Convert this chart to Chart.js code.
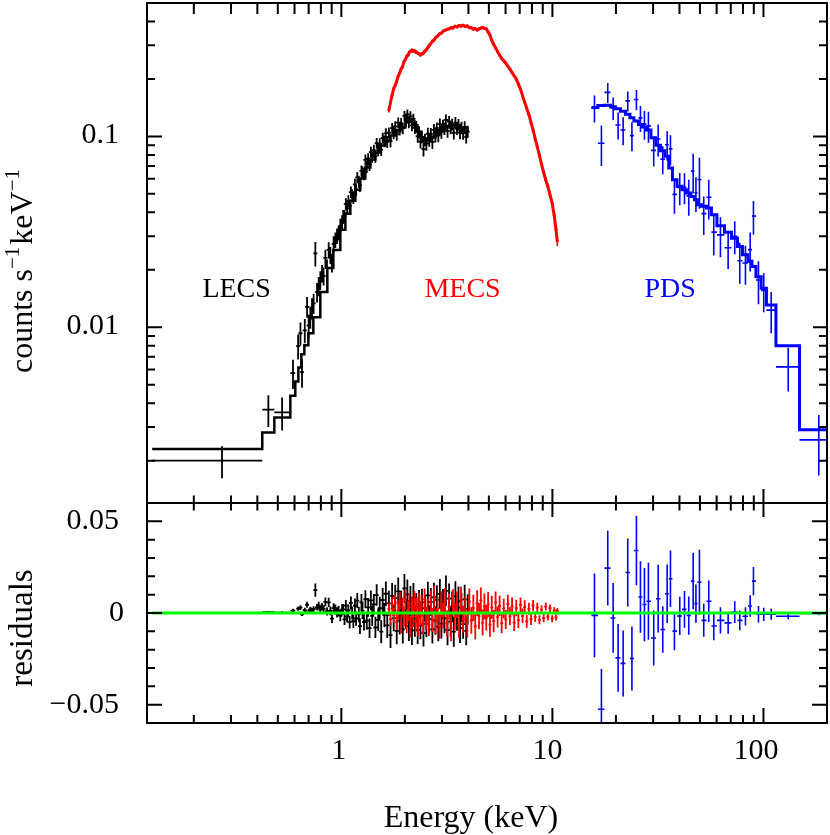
<!doctype html>
<html><head>
<meta charset="utf-8">
<title>LECS / MECS / PDS spectrum</title>
<script src="https://cdn.jsdelivr.net/npm/chart.js"></script>
<style>
  body { margin: 0; background: #fff; }
  #wrap { position: relative; width: 830px; height: 835px; }
  #wrap canvas { position: absolute; left: 0; top: 0; }
</style>
</head>
<body>
<div id="wrap">
  <canvas id="spec" width="830" height="835"></canvas>
  <canvas id="resid" width="830" height="835"></canvas>
</div>
<script>
// ---------- LECS (black) : energy keV, counts s-1 keV-1, 1 sigma, residual ----------
const lecsE = [0.272, 0.451, 0.524, 0.59, 0.624, 0.64, 0.651, 0.671, 0.688, 0.70,
  0.713, 0.726, 0.739, 0.753, 0.767, 0.781, 0.795, 0.810, 0.824, 0.840,
  0.855, 0.871, 0.887, 0.903, 0.919, 0.937, 0.954, 0.971, 0.989, 1.008,
  1.02, 1.035, 1.05, 1.065, 1.08, 1.095, 1.11, 1.125, 1.14, 1.16,
  1.175, 1.19, 1.21, 1.225, 1.245, 1.26, 1.28, 1.30, 1.32, 1.34,
  1.36, 1.38, 1.40, 1.425, 1.45, 1.47, 1.495, 1.52, 1.545, 1.57,
  1.60, 1.625, 1.65, 1.68, 1.71, 1.74, 1.77, 1.80, 1.83, 1.86,
  1.89, 1.92, 1.955, 1.99, 2.02, 2.055, 2.09, 2.125, 2.16, 2.195,
  2.23, 2.265, 2.30, 2.335, 2.37, 2.41, 2.45, 2.49, 2.53, 2.57,
  2.61, 2.655, 2.70, 2.745, 2.79, 2.835, 2.88, 2.93, 2.98, 3.03,
  3.08, 3.13, 3.185, 3.24, 3.295, 3.35, 3.41, 3.47, 3.53, 3.59,
  3.65, 3.71, 3.775, 3.84, 3.905, 3.97];
const lecsRate = [0.0020, 0.0037, 0.00358, 0.00575, 0.00797, 0.0093, 0.00582, 0.00964, 0.0128, 0.01024,
  0.01133, 0.01259, 0.01333, 0.0244, 0.01528, 0.01643, 0.01768, 0.01917, 0.01855, 0.02308,
  0.02044, 0.02542, 0.02393, 0.02164, 0.02734, 0.0287, 0.03012, 0.03124, 0.03401, 0.03514,
  0.0382, 0.0382, 0.0443, 0.0420, 0.0458, 0.0432, 0.0511, 0.0493, 0.0479, 0.0561,
  0.0527, 0.0610, 0.0580, 0.0555, 0.0660, 0.0649, 0.0637, 0.0754, 0.0694, 0.0764,
  0.0711, 0.0828, 0.0780, 0.0848, 0.0785, 0.0921, 0.0848, 0.0916, 0.0853, 0.0980,
  0.0944, 0.1038, 0.0937, 0.1045, 0.0944, 0.1105, 0.1037, 0.1128, 0.1024, 0.1182,
  0.1087, 0.1173, 0.1103, 0.1280, 0.1205, 0.1303, 0.1185, 0.1272, 0.1143, 0.1234,
  0.1109, 0.1127, 0.1002, 0.1056, 0.0938, 0.0995, 0.0857, 0.0961, 0.0916, 0.1035,
  0.0958, 0.1032, 0.0936, 0.1082, 0.1006, 0.1104, 0.1013, 0.1159, 0.1053, 0.1142,
  0.1100, 0.1221, 0.1067, 0.1197, 0.1108, 0.1156, 0.1045, 0.1182, 0.1100, 0.1151,
  0.1048, 0.1115, 0.1039, 0.1121, 0.0996, 0.1059];
const lecsErr = [0.00038, 0.0007, 0.0007, 0.001, 0.0012, 0.0013, 0.001, 0.0014, 0.0016, 0.0014,
  0.0015, 0.0016, 0.0016, 0.0036, 0.0018, 0.0019, 0.002, 0.002, 0.002, 0.0024,
  0.0022, 0.0025, 0.0024, 0.0023, 0.0026, 0.0027, 0.0028, 0.0028, 0.003, 0.003,
  0.0029, 0.0030, 0.0031, 0.0032, 0.0033, 0.0034, 0.0035, 0.0036, 0.0037, 0.0039,
  0.0040, 0.0041, 0.0042, 0.0043, 0.0045, 0.0046, 0.0047, 0.0049, 0.0050, 0.0051,
  0.0053, 0.0054, 0.0055, 0.0057, 0.0058, 0.0059, 0.0061, 0.0062, 0.0063, 0.0065,
  0.0066, 0.0067, 0.0068, 0.0069, 0.0070, 0.0071, 0.0072, 0.0073, 0.0074, 0.0075,
  0.0076, 0.0077, 0.0078, 0.0079, 0.0080, 0.0081, 0.0081, 0.0081, 0.0080, 0.0080,
  0.0079, 0.0078, 0.0077, 0.0076, 0.0075, 0.0074, 0.0073, 0.0073, 0.0074, 0.0074,
  0.0075, 0.0076, 0.0077, 0.0078, 0.0078, 0.0079, 0.0080, 0.0081, 0.0081, 0.0082,
  0.0082, 0.0083, 0.0083, 0.0083, 0.0083, 0.0083, 0.0082, 0.0082, 0.0082, 0.0081,
  0.0081, 0.0080, 0.0080, 0.0080, 0.0079, 0.0079];
const lecsRes = [0.0000, 0.0004, 0.0002, 0.0013, 0.0024, 0.0029, -0.0007, 0.0015, 0.0045, 0.0008,
  0.0019, 0.0012, 0.0021, 0.0125, 0.0031, 0.0042, 0.0018, 0.0035, 0.0022, 0.0061,
  0.0009, 0.0058, 0.0012, -0.0031, 0.0027, 0.0019, 0.0004, 0.0011, -0.0015, 0.0018,
  0.0020, -0.0035, 0.0040, -0.0020, 0.0015, -0.0050, 0.0055, 0.0000, -0.0045, 0.0040,
  -0.0030, 0.0068, -0.0008, -0.0072, 0.0058, 0.0012, -0.0049, 0.0075, -0.0042, 0.0031,
  -0.0083, 0.0069, -0.0016, 0.0047, -0.0079, 0.0098, -0.0037, 0.0026, -0.0102, 0.0071,
  -0.0012, 0.0105, -0.0068, 0.0052, -0.0121, 0.0093, -0.0028, 0.0081, -0.0097, 0.0118,
  -0.0041, 0.0044, -0.0089, 0.0134, -0.0006, 0.0102, -0.0072, 0.0066, -0.0095, 0.0083,
  -0.0051, 0.0031, -0.0092, 0.0049, -0.0068, 0.0058, -0.0110, 0.0027, -0.0058, 0.0096,
  -0.0033, 0.0061, -0.0089, 0.0087, -0.0041, 0.0072, -0.0074, 0.0104, -0.0058, 0.0049,
  -0.0029, 0.0121, -0.0093, 0.0078, -0.0047, 0.0035, -0.0102, 0.0091, -0.0015, 0.0064,
  -0.0083, 0.0029, -0.0061, 0.0074, -0.0097, 0.0023];
// wide low-energy LECS bins (keV)
const lecsBinLo = [0.127, 0.422, 0.4814, 0.5732];
const lecsBinHi = [0.422, 0.4814, 0.5732, 0.605];
// LECS folded model, step edges and values
const lecsModelE = [0.127, 0.422, 0.4814, 0.5732, 0.605, 0.6255, 0.6461, 0.6679, 0.6977, 0.7367,
  0.795, 0.8582, 0.9165, 0.989, 1.045, 1.103, 1.165, 1.230, 1.299, 1.372,
  1.449, 1.530, 1.616, 1.707, 1.803, 1.904, 2.011, 2.078, 2.147, 2.218,
  2.292, 2.368, 2.447, 2.528, 2.641, 2.790, 2.946, 3.111, 3.286, 3.470,
  3.664, 3.955];
const lecsModel = [0.0023, 0.00281, 0.00337, 0.00438, 0.0052, 0.00616, 0.00721, 0.00804, 0.0093, 0.01129,
  0.01528, 0.02044, 0.02542, 0.03239, 0.03933, 0.04603, 0.05261, 0.06009, 0.06867, 0.07566,
  0.08236, 0.08966, 0.09526, 0.1012, 0.1062, 0.1115, 0.1185, 0.1214, 0.1199, 0.1143,
  0.1062, 0.0988, 0.0941, 0.0953, 0.0988, 0.1037, 0.1088, 0.1129, 0.1143, 0.1129,
  0.1102, 0.1062];

// ---------- MECS (red) ----------
const mecsE = [1.68, 1.71, 1.74, 1.77, 1.80, 1.83, 1.86, 1.89, 1.92, 1.95,
  1.98, 2.01, 2.04, 2.07, 2.10, 2.13, 2.16, 2.19, 2.22, 2.25,
  2.28, 2.31, 2.34, 2.37, 2.40, 2.44, 2.48, 2.52, 2.56, 2.60,
  2.65, 2.70, 2.75, 2.80, 2.86, 2.92, 2.98, 3.04, 3.10, 3.17,
  3.24, 3.31, 3.38, 3.45, 3.53, 3.61, 3.69, 3.77, 3.86, 3.95,
  4.04, 4.13, 4.22, 4.31, 4.40, 4.49, 4.58, 4.67, 4.76, 4.86,
  4.96, 5.06, 5.16, 5.27, 5.38, 5.50, 5.62, 5.75, 5.88, 6.01,
  6.15, 6.29, 6.44, 6.59, 6.74, 6.90, 7.06, 7.22, 7.39, 7.56,
  7.74, 7.92, 8.10, 8.29, 8.48, 8.68, 8.88, 9.09, 9.30, 9.52,
  9.74, 9.97, 10.20, 10.40, 10.55];
const mecsRate = [0.137, 0.151, 0.164, 0.178, 0.185, 0.195, 0.207, 0.215, 0.226, 0.232,
  0.246, 0.252, 0.263, 0.267, 0.276, 0.279, 0.283, 0.280, 0.281, 0.277,
  0.276, 0.272, 0.271, 0.267, 0.270, 0.272, 0.279, 0.283, 0.291, 0.297,
  0.306, 0.315, 0.320, 0.330, 0.336, 0.345, 0.348, 0.356, 0.359, 0.364,
  0.366, 0.371, 0.370, 0.377, 0.375, 0.381, 0.378, 0.382, 0.377, 0.379,
  0.372, 0.371, 0.365, 0.367, 0.361, 0.366, 0.369, 0.372, 0.368, 0.366,
  0.352, 0.339, 0.318, 0.303, 0.291, 0.278, 0.266, 0.256, 0.249, 0.242,
  0.233, 0.225, 0.216, 0.208, 0.200, 0.188, 0.177, 0.163, 0.151, 0.140,
  0.130, 0.118, 0.108, 0.097, 0.0885, 0.0795, 0.0715, 0.0645, 0.0590, 0.0545,
  0.0495, 0.0448, 0.0385, 0.0325, 0.0282];
const mecsErr = [0.0035, 0.0037, 0.0039, 0.0041, 0.0042, 0.0044, 0.0046, 0.0047, 0.0049, 0.0050,
  0.0052, 0.0053, 0.0055, 0.0056, 0.0057, 0.0058, 0.0059, 0.0059, 0.0059, 0.0059,
  0.0059, 0.0058, 0.0058, 0.0058, 0.0058, 0.0059, 0.0060, 0.0061, 0.0062, 0.0063,
  0.0064, 0.0065, 0.0066, 0.0067, 0.0068, 0.0069, 0.0069, 0.0070, 0.0070, 0.0071,
  0.0071, 0.0072, 0.0072, 0.0072, 0.0072, 0.0073, 0.0073, 0.0073, 0.0073, 0.0073,
  0.0072, 0.0072, 0.0071, 0.0071, 0.0070, 0.0071, 0.0071, 0.0071, 0.0071, 0.0070,
  0.0068, 0.0066, 0.0063, 0.0061, 0.0059, 0.0057, 0.0055, 0.0054, 0.0053, 0.0052,
  0.0050, 0.0049, 0.0048, 0.0046, 0.0045, 0.0043, 0.0041, 0.0039, 0.0037, 0.0035,
  0.0033, 0.0031, 0.0030, 0.0028, 0.0027, 0.0025, 0.0024, 0.0023, 0.0022, 0.0021,
  0.0020, 0.0019, 0.0018, 0.0017, 0.0016];
const mecsRes = [0.0021, -0.0034, 0.0046, -0.0012, 0.0058, -0.0049, 0.0013, 0.0067, -0.0061, 0.0035,
  -0.0022, 0.0072, -0.0055, 0.0009, 0.0048, -0.0076, 0.0031, -0.0018, 0.0063, -0.0045,
  0.0026, -0.0069, 0.0052, -0.0011, 0.0039, -0.0058, 0.0074, -0.0029, 0.0016, -0.0063,
  0.0057, -0.0038, 0.0081, -0.0047, 0.0023, -0.0071, 0.0049, -0.0014, 0.0066, -0.0056,
  0.0034, -0.0082, 0.0058, -0.0021, 0.0045, -0.0064, 0.0072, -0.0033, 0.0019, -0.0059,
  0.0062, -0.0041, 0.0028, -0.0073, 0.0054, -0.0017, 0.0068, -0.0052, 0.0036, -0.0026,
  0.0047, -0.0063, 0.0031, -0.0044, 0.0058, -0.0022, 0.0039, -0.0057, 0.0025, -0.0035,
  0.0049, -0.0018, 0.0036, -0.0052, 0.0027, -0.0039, 0.0044, -0.0015, 0.0032, -0.0046,
  0.0023, -0.0034, 0.0041, -0.0021, 0.0029, -0.0037, 0.0018, -0.0028, 0.0035, -0.0019,
  0.0026, -0.0031, 0.0014, -0.0024, 0.0011];

// ---------- PDS (blue) ----------
const pdsE = [15.82, 17.07, 18.29, 19.40, 20.48, 21.63, 22.75, 23.81, 25.01, 26.13,
  27.29, 28.51, 30.20, 31.70, 33.33, 34.97, 36.25, 37.86, 40.12, 42.24,
  44.26, 46.44, 47.87, 49.73, 52.12, 55.06, 58.15, 62.55, 68.02, 73.10,
  77.22, 82.16, 86.49, 89.66, 94.69, 100.3, 108.8, 131.0, 182.9];
const pdsLo = [15.31, 16.43, 17.64, 18.84, 19.89, 21.01, 22.18, 23.30, 24.33, 25.56,
  26.70, 27.90, 29.30, 30.94, 32.50, 34.14, 35.59, 37.05, 38.92, 41.11,
  43.16, 45.33, 47.10, 48.67, 50.84, 53.68, 56.69, 60.19, 65.35, 70.53,
  75.30, 79.52, 84.43, 88.20, 92.14, 97.52, 103.3, 114.6, 148.2];
const pdsHi = [16.43, 17.64, 18.84, 19.89, 21.01, 22.18, 23.30, 24.33, 25.56, 26.70,
  27.90, 29.30, 30.94, 32.50, 34.14, 35.59, 37.05, 38.92, 41.11, 43.16,
  45.33, 47.10, 48.67, 50.84, 53.68, 56.69, 60.19, 65.35, 70.53, 75.30,
  79.52, 84.43, 88.20, 92.14, 97.52, 103.3, 114.6, 148.2, 200];
const pdsRate = [0.1412, 0.0920, 0.1700, 0.1410, 0.1148, 0.1080, 0.1535, 0.1010, 0.1560, 0.1250,
  0.1160, 0.1135, 0.0845, 0.0970, 0.0760, 0.0905, 0.0860, 0.0497, 0.0540, 0.0541,
  0.0488, 0.0658, 0.0506, 0.0595, 0.0394, 0.0480, 0.0315, 0.0305, 0.0261, 0.0300,
  0.0223, 0.0217, 0.0255, 0.0382, 0.0177, 0.0156, 0.0123, 0.0062, 0.00257];
const pdsErr = [0.0228, 0.0220, 0.0204, 0.0190, 0.0185, 0.0180, 0.0185, 0.0175, 0.0190, 0.0195,
  0.0200, 0.0210, 0.0150, 0.0185, 0.0127, 0.0160, 0.0154, 0.0104, 0.0104, 0.0100,
  0.0104, 0.0154, 0.0104, 0.0177, 0.0090, 0.0113, 0.0077, 0.0072, 0.0059, 0.0059,
  0.0054, 0.0050, 0.0059, 0.0077, 0.0045, 0.0036, 0.0030, 0.0016, 0.0009];
const pdsModel = [0.1416, 0.1450, 0.1456, 0.1430, 0.1395, 0.1355, 0.1305, 0.1254, 0.1205, 0.1156,
  0.1120, 0.1080, 0.0984, 0.0900, 0.0840, 0.0788, 0.0684, 0.0593, 0.0548, 0.0525,
  0.0505, 0.0485, 0.0466, 0.0439, 0.0430, 0.0421, 0.0389, 0.0340, 0.0315, 0.0293,
  0.0265, 0.0240, 0.0222, 0.0208, 0.0184, 0.0160, 0.0131, 0.0080, 0.0029];
const pdsRes = [-0.0013, -0.0525, 0.0245, -0.0027, -0.0245, -0.0275, 0.0221, -0.0248, 0.0341, 0.0087,
  0.0046, 0.0064, -0.0136, 0.0078, -0.0090, 0.0105, 0.0187, -0.0099, -0.0016, 0.0020,
  -0.0014, 0.0174, 0.0051, 0.0168, -0.0040, 0.0064, -0.0071, -0.0040, -0.0054, 0.0005,
  -0.0040, -0.0018, 0.0038, 0.0174, -0.0007, -0.0007, -0.0007, -0.0018, -0.0003];

// zero line of the residual panel
const zeroE = [0.127, 200];
const zeroRes = [0, 0];

// instrument names written in the spectrum panel
const instNames = ['LECS', 'MECS', 'PDS'];
const instColors = ['#000000', '#ff0000', '#0000ff'];
const instNameE = [0.319, 3.75, 36.1];
const instNameRate = 0.0144;

const FONT = "'Liberation Serif', 'Times New Roman', Times, serif";

function pts(xs, ys) { return xs.map((x, i) => ({ x: x, y: ys[i] })); }

function logTicks(min, max) {
  const major = [], minor = [];
  for (let p = -3; p <= 2; p++) {
    for (let k = 1; k <= 9; k++) {
      const v = Number((k * Math.pow(10, p)).toPrecision(2));
      if (v <= min * 1.0001 || v >= max * 0.9999) continue;
      (k === 1 ? major : minor).push(v);
    }
  }
  return { major: major, minor: minor };
}

// vertical title with optional superscripts, centred on yc, baseline at x
function vTitle(ctx, parts, x, yc, size) {
  ctx.save();
  ctx.translate(x, yc);
  ctx.rotate(-Math.PI / 2);
  ctx.fillStyle = '#000';
  ctx.textAlign = 'left';
  ctx.textBaseline = 'alphabetic';
  const supSize = Math.round(size * 0.65);
  let w = 0;
  parts.forEach(p => {
    ctx.font = (p[1] ? supSize : size) + 'px ' + FONT;
    w += ctx.measureText(p[0]).width + (p[1] ? 2 : 0);
  });
  let cx = -w / 2;
  parts.forEach(p => {
    ctx.font = (p[1] ? supSize : size) + 'px ' + FONT;
    ctx.fillText(p[0], cx, p[1] ? -Math.round(size * 0.4) : 0);
    cx += ctx.measureText(p[0]).width + (p[1] ? 2 : 0);
  });
  ctx.restore();
}

// crosses: vertical 1 sigma bar + horizontal bin bar
const errorBars = {
  id: 'errorBars',
  afterDatasetDraw(chart, args) {
    const ds = chart.data.datasets[args.index];
    if (!ds.errY) return;
    const ctx = chart.ctx, a = chart.chartArea;
    const xs = chart.scales.x, ys = chart.scales.y;
    ctx.save();
    ctx.beginPath();
    ctx.rect(a.left, a.top, a.right - a.left, a.bottom - a.top);
    ctx.clip();
    ctx.strokeStyle = ds.barColor;
    ctx.lineWidth = ds.barWidth;
    ctx.beginPath();
    args.meta.data.forEach((pt, i) => {
      const v = ds.data[i].y, e = ds.errY[i];
      const yHi = ys.getPixelForValue(v + e);
      const yLo = (ys.type === 'logarithmic' && v - e <= 0) ? a.bottom + 5 : ys.getPixelForValue(v - e);
      ctx.moveTo(pt.x, yHi);
      ctx.lineTo(pt.x, yLo);
      let x0 = pt.x - ds.cap, x1 = pt.x + ds.cap;
      if (ds.binLo && ds.binLo[i] != null) {
        x0 = xs.getPixelForValue(ds.binLo[i]);
        x1 = xs.getPixelForValue(ds.binHi[i]);
      }
      ctx.moveTo(x0, pt.y);
      ctx.lineTo(x1, pt.y);
    });
    ctx.stroke();
    ctx.restore();
  }
};

const specAxes = {
  id: 'specAxes',
  afterDraw(chart) {
    const ctx = chart.ctx, a = chart.chartArea, xs = chart.scales.x, ys = chart.scales.y;
    ctx.save();
    ctx.strokeStyle = '#000';
    ctx.lineWidth = 2;
    ctx.strokeRect(a.left, a.top, a.right - a.left, a.bottom - a.top);
    ctx.beginPath();
    const xt = logTicks(xs.min, xs.max);
    xt.minor.forEach(v => {
      const p = xs.getPixelForValue(v);
      ctx.moveTo(p, a.top); ctx.lineTo(p, a.top + 11);
      ctx.moveTo(p, a.bottom); ctx.lineTo(p, a.bottom - 7.5);
    });
    xt.major.forEach(v => {
      const p = xs.getPixelForValue(v);
      ctx.moveTo(p, a.top); ctx.lineTo(p, a.top + 14);
      ctx.moveTo(p, a.bottom); ctx.lineTo(p, a.bottom - 14);
    });
    const yt = logTicks(ys.min, ys.max);
    yt.minor.forEach(v => {
      const p = ys.getPixelForValue(v);
      ctx.moveTo(a.left, p); ctx.lineTo(a.left + 8, p);
      ctx.moveTo(a.right, p); ctx.lineTo(a.right - 8, p);
    });
    yt.major.forEach(v => {
      const p = ys.getPixelForValue(v);
      ctx.moveTo(a.left, p); ctx.lineTo(a.left + 15, p);
      ctx.moveTo(a.right, p); ctx.lineTo(a.right - 14, p);
    });
    ctx.stroke();

    ctx.fillStyle = '#000';
    ctx.font = '30px ' + FONT;
    ctx.textAlign = 'right';
    ctx.textBaseline = 'middle';
    yt.major.forEach(v => ctx.fillText(String(v), a.left - 28, ys.getPixelForValue(v) - 1));

    ctx.font = '28px ' + FONT;
    ctx.textAlign = 'center';
    ctx.textBaseline = 'alphabetic';
    instNames.forEach((t, i) => {
      ctx.fillStyle = instColors[i];
      ctx.fillText(t, xs.getPixelForValue(instNameE[i]), ys.getPixelForValue(instNameRate));
    });
    ctx.restore();

    vTitle(ctx, [['counts s', 0], ['\u22121', 1], ['keV', 0], ['\u22121', 1]], 32, 270, 32);
  }
};

const residAxes = {
  id: 'residAxes',
  afterDraw(chart) {
    const ctx = chart.ctx, a = chart.chartArea, xs = chart.scales.x, ys = chart.scales.y;
    ctx.save();
    ctx.strokeStyle = '#000';
    ctx.lineWidth = 2;
    ctx.strokeRect(a.left, a.top, a.right - a.left, a.bottom - a.top);
    ctx.beginPath();
    const xt = logTicks(xs.min, xs.max);
    xt.minor.forEach(v => {
      const p = xs.getPixelForValue(v);
      ctx.moveTo(p, a.top); ctx.lineTo(p, a.top + 7.5);
      ctx.moveTo(p, a.bottom); ctx.lineTo(p, a.bottom - 8);
    });
    xt.major.forEach(v => {
      const p = xs.getPixelForValue(v);
      ctx.moveTo(p, a.top); ctx.lineTo(p, a.top + 14);
      ctx.moveTo(p, a.bottom); ctx.lineTo(p, a.bottom - 15);
    });
    for (let k = -5; k <= 5; k++) {
      const p = ys.getPixelForValue(k / 100);
      const len = k % 5 === 0 ? 15 : 8;
      ctx.moveTo(a.left, p); ctx.lineTo(a.left + len, p);
      ctx.moveTo(a.right, p); ctx.lineTo(a.right - len, p);
    }
    ctx.stroke();

    ctx.fillStyle = '#000';
    ctx.font = '30px ' + FONT;
    ctx.textAlign = 'right';
    ctx.textBaseline = 'middle';
    [[0.05, '0.05'], [0, '0'], [-0.05, '\u22120.05']].forEach(t => {
      ctx.fillText(t[1], t[1] === '0' ? a.left - 23 : a.left - 28, ys.getPixelForValue(t[0]));
    });

    ctx.textAlign = 'center';
    ctx.textBaseline = 'alphabetic';
    xt.major.forEach(v => {
      const s = String(v);
      const w = ctx.measureText(s).width;
      ctx.fillText(s, xs.getPixelForValue(v) - w / 6, a.bottom + 36);
    });
    ctx.font = '32px ' + FONT;
    ctx.fillText('Energy (keV)', 471, a.bottom + 104);
    ctx.restore();

    vTitle(ctx, [['residuals', 0]], 32, 628, 33);
  }
};

const common = {
  responsive: false,
  animation: false,
  devicePixelRatio: 1,
  events: [],
  plugins: { legend: { display: false }, tooltip: { enabled: false } }
};

new Chart(document.getElementById('spec'), {
  type: 'scatter',
  data: {
    datasets: [
      { label: 'MECS', data: pts(mecsE, mecsRate), showLine: true, borderColor: '#ff0000', borderWidth: 3,
        pointRadius: 0, errY: mecsErr, barColor: '#ff0000', barWidth: 1.6, cap: 1.5, order: 1 },
      { label: 'LECS model', data: pts(lecsModelE, lecsModel), showLine: true, stepped: true,
        borderColor: '#000000', borderWidth: 2.5, pointRadius: 0, order: 2 },
      { label: 'LECS', data: pts(lecsE, lecsRate), pointRadius: 0, errY: lecsErr,
        binLo: lecsBinLo, binHi: lecsBinHi, barColor: '#000000', barWidth: 1.8, cap: 2, order: 3 },
      { label: 'PDS model', data: pts(pdsLo.concat([pdsHi[pdsHi.length - 1]]), pdsModel.concat([pdsModel[pdsModel.length - 1]])),
        showLine: true, stepped: true, borderColor: '#0000ff', borderWidth: 3, pointRadius: 0, order: 4 },
      { label: 'PDS', data: pts(pdsE, pdsRate), pointRadius: 0, errY: pdsErr,
        binLo: pdsLo, binHi: pdsHi, barColor: '#0000ff', barWidth: 1.6, cap: 2, order: 5 }
    ]
  },
  options: Object.assign({}, common, {
    layout: { padding: { left: 147, top: 3, right: 3, bottom: 332 }, autoPadding: false },
    scales: {
      x: { type: 'logarithmic', min: 0.12, max: 200, bounds: 'data', display: false },
      y: { type: 'logarithmic', min: 0.0012, max: 0.5, bounds: 'data', display: false }
    }
  }),
  plugins: [errorBars, specAxes]
});

new Chart(document.getElementById('resid'), {
  type: 'scatter',
  data: {
    datasets: [
      { label: 'zero', data: pts(zeroE, zeroRes), showLine: true, borderColor: '#00ff00', borderWidth: 3,
        pointRadius: 0, order: 0 },
      { label: 'PDS', data: pts(pdsE, pdsRes), pointRadius: 0, errY: pdsErr,
        binLo: pdsLo, binHi: pdsHi, barColor: '#0000ff', barWidth: 1.6, cap: 2, order: 1 },
      { label: 'MECS', data: pts(mecsE, mecsRes), pointRadius: 0, errY: mecsErr,
        barColor: '#ff0000', barWidth: 1.8, cap: 1.5, order: 2 },
      { label: 'LECS', data: pts(lecsE, lecsRes), pointRadius: 0, errY: lecsErr,
        binLo: lecsBinLo, binHi: lecsBinHi, barColor: '#000000', barWidth: 1.8, cap: 2, order: 3 }
    ]
  },
  options: Object.assign({}, common, {
    layout: { padding: { left: 147, top: 503, right: 3, bottom: 112 }, autoPadding: false },
    scales: {
      x: { type: 'logarithmic', min: 0.12, max: 200, bounds: 'data', display: false },
      y: { type: 'linear', min: -0.06, max: 0.06, bounds: 'data', display: false }
    }
  }),
  plugins: [errorBars, residAxes]
});
</script>
</body></html>
